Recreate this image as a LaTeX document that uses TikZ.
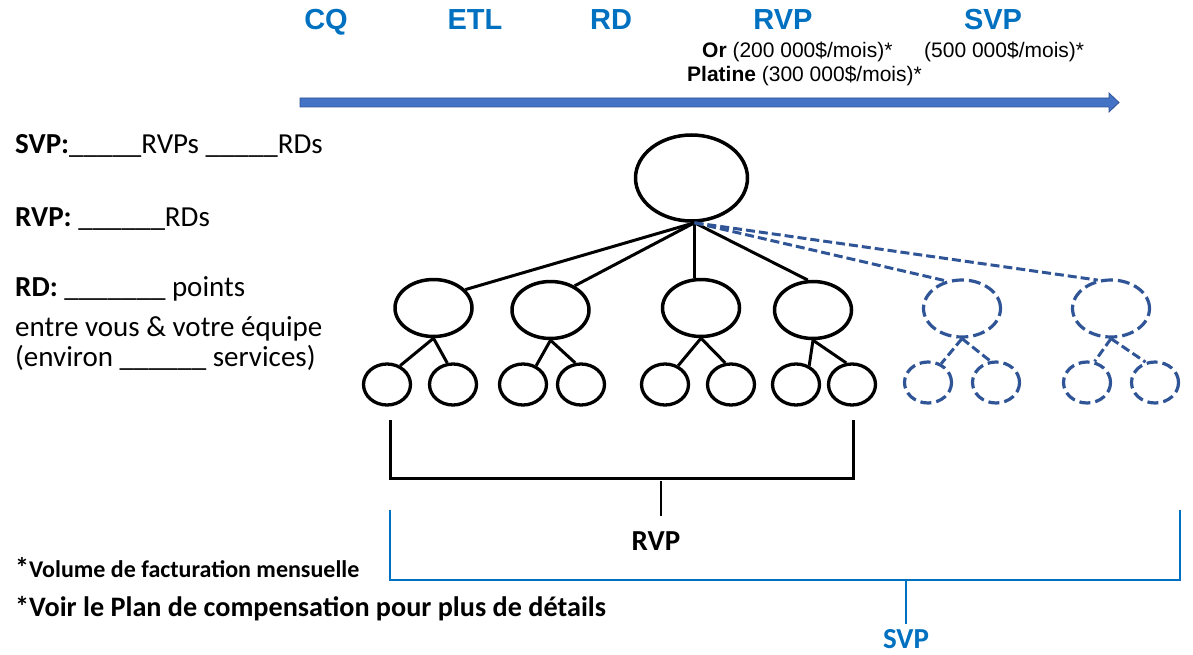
\documentclass[tikz,border=0pt]{standalone}
\usepackage{fontspec}
\setmainfont{Carlito}
\newfontfamily\arialf{Liberation Sans}
\usetikzlibrary{shapes.geometric}
\definecolor{hblue}{HTML}{0070C0}
\definecolor{dblue}{HTML}{2F5597}
\definecolor{ablue}{HTML}{4472C4}
\tikzset{
  bignode/.style={ellipse, draw, line width=3.5pt, inner sep=0pt, minimum width=112pt, minimum height=86pt},
  midnode/.style={ellipse, draw, line width=3.5pt, inner sep=0pt, minimum width=77pt, minimum height=57pt},
  leafnode/.style={ellipse, draw, line width=3.3pt, inner sep=0pt, minimum width=47pt, minimum height=41pt},
  dmidnode/.style={midnode, draw=dblue, line width=3.2pt, dash pattern=on 12pt off 5pt},
  dleafnode/.style={leafnode, draw=dblue, line width=3.2pt, dash pattern=on 11pt off 5pt},
  link/.style={line width=3pt},
  dlink/.style={draw=dblue, line width=3pt, dash pattern=on 9pt off 4pt},
  toplabel/.style={font=\arialf\bfseries\fontsize{29}{34}\selectfont, text=hblue, anchor=base, inner sep=0pt},
  sublabel/.style={font=\arialf\fontsize{21}{25}\selectfont, anchor=base west, inner sep=0pt},
  lefttext/.style={font=\fontsize{29}{34}\selectfont, anchor=base west, inner sep=0pt},
  foot/.style={font=\bfseries\fontsize{28.2}{34}\selectfont, anchor=base west, inner sep=0pt},
  bracketlabel/.style={font=\bfseries\fontsize{29}{34}\selectfont, anchor=base, inner sep=0pt},
  blackbracket/.style={line width=3pt},
  bluebracket/.style={draw=hblue, line width=2.6pt}
}
\begin{document}
\begin{tikzpicture}[x=1pt,y=-1pt]
\useasboundingbox (0,0) rectangle (1193,655);

% top labels
\node[toplabel] (cq) at (326,30) {CQ};
\node[toplabel] (etl) at (475,30) {ETL};
\node[toplabel] (rd) at (611,30) {RD};
\node[toplabel] (rvp) at (783,30) {RVP};
\node[toplabel] (svp) at (993,30) {SVP};
\node[sublabel] (or) at (702,58) {\textbf{Or} (200 000\$/mois)*};
\node[sublabel] (svpv) at (924,58) {(500 000\$/mois)*};
\node[sublabel] (plat) at (687,82) {\textbf{Platine} (300 000\$/mois)*};

% big arrow
\filldraw[fill=ablue, draw=dblue, line width=0.8pt]
  (300,98) -- (1109,98) -- (1109,93) -- (1119,102.5) -- (1109,112) -- (1109,107) -- (300,107) -- cycle;

% left text
\node[lefttext] (t1) at (15,154) {\textbf{SVP:}\_\_\_\_\_RVPs \_\_\_\_\_RDs};
\node[lefttext] (t2) at (15,226) {\textbf{RVP:} \_\_\_\_\_\_RDs};
\node[lefttext] (t3) at (15,296) {\textbf{RD:} \_\_\_\_\_\_\_ points};
\node[lefttext] (t4) at (15,336) {entre vous \& votre équipe};
\node[lefttext] (t5) at (15,366) {(environ \_\_\_\_\_\_ services)};

% tree
\node[bignode] (top) at (691.5,178) {};
\node[midnode] (m1) at (433.5,308) {};
\node[midnode] (m2) at (550.5,310) {};
\node[midnode] (m3) at (701,308) {};
\node[midnode] (m4) at (813,310) {};
\node[dmidnode] (m5) at (962,308.5) {};
\node[dmidnode] (m6) at (1111,308.5) {};

\node[leafnode] (l1) at (387,384.5) {};
\node[leafnode] (l2) at (453,384.5) {};
\node[leafnode] (l3) at (523,384.5) {};
\node[leafnode] (l4) at (581,384.5) {};
\node[leafnode] (l5) at (665,384.5) {};
\node[leafnode] (l6) at (731,384.5) {};
\node[leafnode] (l7) at (796,384.5) {};
\node[leafnode] (l8) at (852,384.5) {};
\node[dleafnode] (l9) at (928,382.5) {};
\node[dleafnode] (l10) at (996,382.5) {};
\node[dleafnode] (l11) at (1087,382.5) {};
\node[dleafnode] (l12) at (1155,382.5) {};

\coordinate (apex) at ([xshift=3pt]top.south);
\draw[link] (apex) -- (m1.30);
\draw[link] (apex) -- (m2.45);
\draw[link] (apex) -- (apex |- m3.north);
\draw[link] (apex) -- (m4.100);
\draw[dlink] (apex) -- (m5.120);
\draw[dlink] (apex) -- (m6.115);

\draw[link] (m1.south) -- (l1.55);
\draw[link] (m1.south) -- (l2.105);
\draw[link] (m2.south) -- (l3.55);
\draw[link] (m2.south) -- (l4.105);
\draw[link] (m3.south) -- (l5.55);
\draw[link] (m3.south) -- (l6.105);
\draw[link] (m4.south) -- (l7.55);
\draw[link] (m4.south) -- (l8.105);
\draw[dlink] (m5.south) -- (l9.55);
\draw[dlink] (m5.south) -- (l10.105);
\draw[dlink] (m6.south) -- (l11.70);
\draw[dlink] (m6.south) -- (l12.115);

% black bracket
\draw[blackbracket] (390,420) -- (390,478) -- (853,478) -- (853,420);
\draw[line width=2.4pt] (661,481) -- (661,516);
\node[bracketlabel] (rvplabel) at (656,550) {RVP};

% blue bracket
\draw[bluebracket] (390,510) -- (390,580) -- (1180,580) -- (1180,510);
\draw[bluebracket] (906,580) -- (906,624);
\node[bracketlabel, text=hblue] (svplabel) at (906,648) {SVP};

% footnotes
\node[foot, font=\bfseries\fontsize{24}{28}\selectfont] (f1) at (15,577) {{\fontsize{28}{28}\selectfont *}Volume de facturation mensuelle};
\node[foot] (f2) at (15,616) {*Voir le Plan de compensation pour plus de détails};
\end{tikzpicture}
\end{document}
